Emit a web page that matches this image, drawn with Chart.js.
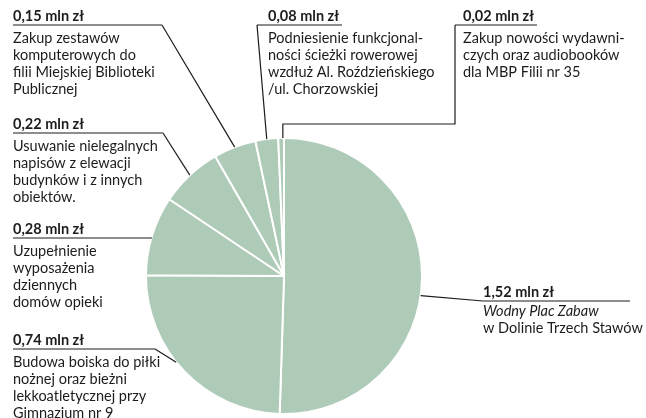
<!DOCTYPE html>
<html>
<head>
<meta charset="utf-8">
<script src="https://cdn.jsdelivr.net/npm/chart.js@4/dist/chart.umd.min.js"></script>
<style>
  html, body { margin: 0; padding: 0; background: #fff; }
  canvas { display: block; }
</style>
</head>
<body>
<canvas id="pieChart" width="646" height="418"></canvas>
<script>
// budget per project, mln zł
var values = [1.52, 0.74, 0.28, 0.22, 0.15, 0.08, 0.02];

var descriptions = [
    ['*Wodny Plac Zabaw', 'w Dolinie Trzech Stawów'],
    ['Budowa boiska do piłki', 'nożnej oraz bieżni', 'lekkoatletycznej przy', 'Gimnazjum nr 9'],
    ['Uzupełnienie', 'wyposażenia', 'dziennych', 'domów opieki'],
    ['Usuwanie nielegalnych', 'napisów z elewacji', 'budynków i z innych', 'obiektów.'],
    ['Zakup zestawów', 'komputerowych do', 'filii Miejskiej Biblioteki', 'Publicznej'],
    ['Podniesienie funkcjonal-', 'ności ścieżki rowerowej', 'wzdłuż Al. Roździeńskiego', '/ul. Chorzowskiej'],
    ['Zakup nowości wydawni-', 'czych oraz audiobooków', 'dla MBP Filii nr 35']
];

// where each caption sits and how its leader line runs to the slice
var captions = [
    { x: 483, line: 301, x0: 483, x1: 630, start: 'x0', t: 0.54, gap: 15 },
    { x: 13, line: 349, x0: 13, x1: 155, start: 'x1', t: 0.56 },
    { x: 13, line: 238, x0: 13, x1: 152, start: 'x1', t: 0.47 },
    { x: 13, line: 133, x0: 13, x1: 163, start: 'x1', t: 0.5 },
    { x: 13, line: 25, x0: 13, x1: 162, start: 'x1', t: 0.5 },
    { x: 268, line: 25, x0: 257, x1: 342, start: 'x0', t: 0.5 },
    { x: 463, line: 25, x0: 455, x1: 537, start: 'x0', t: 0.8, elbow: 124 }
];

var ink = '#1e1b1c';
var font = 'Lato, "Noto Sans", sans-serif';

function money(v) {
    return v.toFixed(2).replace('.', ',') + ' mln zł';
}

var captionPlugin = {
    id: 'captions',
    afterDatasetsDraw: function(chart) {
        var ctx = chart.ctx;
        var arcs = chart.getDatasetMeta(0).data;
        ctx.save();
        ctx.strokeStyle = ink;
        ctx.fillStyle = ink;
        ctx.lineWidth = 1.2;
        captions.forEach(function(c, i) {
            var arc = arcs[i];
            var a = arc.startAngle + (arc.endAngle - arc.startAngle) * c.t;
            var ax = arc.x + arc.outerRadius * Math.cos(a);
            var ay = arc.y + arc.outerRadius * Math.sin(a);
            var sx = c.start === 'x0' ? c.x0 : c.x1;

            ctx.beginPath();
            ctx.moveTo(c.x0, c.line);
            ctx.lineTo(c.x1, c.line);
            ctx.moveTo(sx, c.line);
            if (c.elbow) {
                ctx.lineTo(sx, c.elbow);
                ctx.lineTo(ax, c.elbow);
            }
            ctx.lineTo(ax, ay);
            ctx.stroke();

            ctx.textBaseline = 'alphabetic';
            ctx.textAlign = 'left';
            ctx.font = 'bold 14.5px ' + font;
            ctx.fillText(money(values[i]), c.x, c.line - 4);

            var y = c.line + (c.gap || 17.5);
            descriptions[i].forEach(function(txt) {
                var italic = txt.charAt(0) === '*';
                ctx.font = (italic ? 'italic ' : '') + '14.5px ' + font;
                ctx.fillText(italic ? txt.slice(1) : txt, c.x, y);
                y += 17.3;
            });
        });
        ctx.restore();
    }
};

var config = {
    type: 'pie',
    data: {
        labels: descriptions.map(function(d) { return d.join(' ').replace('*', ''); }),
        datasets: [{
            data: values,
            backgroundColor: '#aecbb8',
            borderColor: '#ffffff',
            borderWidth: 2
        }]
    },
    options: {
        responsive: false,
        animation: false,
        layout: {
            padding: { left: 145, right: 223, top: 137, bottom: 3 }
        },
        plugins: {
            legend: { display: false },
            tooltip: { enabled: false }
        }
    },
    plugins: [captionPlugin]
};

window.onload = function() {
    var pieChart = document.getElementById('pieChart').getContext('2d');
    window.myPie = new Chart(pieChart, config);
};
</script>
</body>
</html>
